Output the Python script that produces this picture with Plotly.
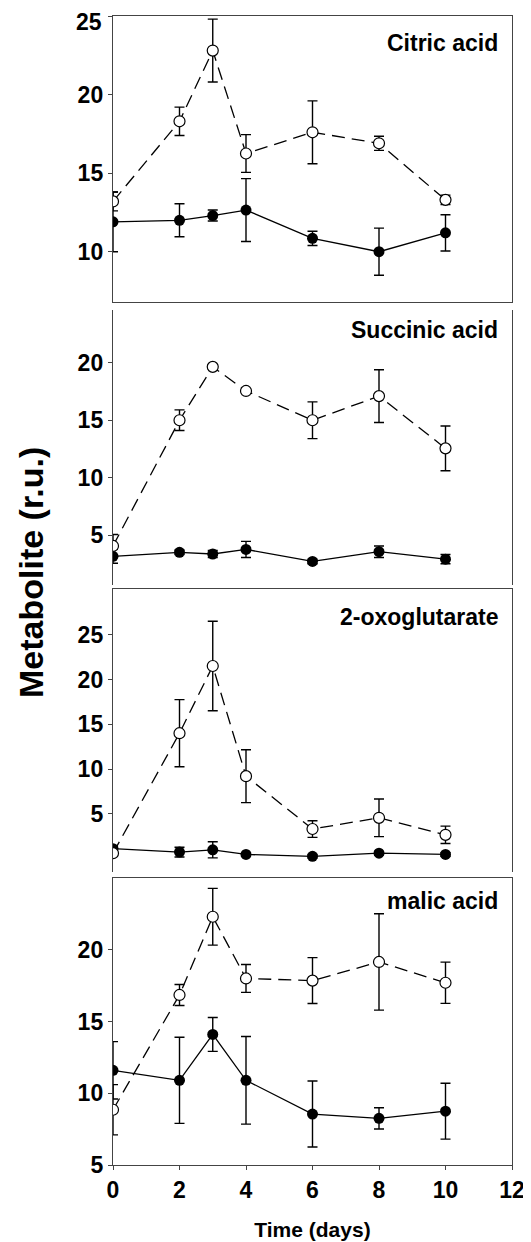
import plotly.graph_objects as go

days = [0, 2, 3, 4, 6, 8, 10]

panel_names = ["Citric acid", "Succinic acid", "2-oxoglutarate", "malic acid"]

citric_open = [13.2, 18.3, 22.8, 16.25, 17.6, 16.9, 13.3]
citric_open_err = [0.6, 0.9, 2.0, 1.2, 2.0, 0.45, 0.3]
citric_filled = [11.9, 12.0, 12.3, 12.65, 10.85, 10.0, 11.2]
citric_filled_err = [1.9, 1.05, 0.35, 2.0, 0.45, 1.5, 1.15]

succinic_open = [4.05, 15.0, 19.65, 17.55, 15.0, 17.1, 12.55]
succinic_open_err = [1.0, 0.9, 0.2, 0.2, 1.6, 2.3, 1.95]
succinic_filled = [3.15, 3.5, 3.35, 3.75, 2.7, 3.55, 2.9]
succinic_filled_err = [0.6, 0.2, 0.3, 0.7, 0.2, 0.5, 0.4]

oxo_open = [0.6, 14.0, 21.5, 9.2, 3.3, 4.55, 2.65]
oxo_open_err = [0.3, 3.75, 5.0, 2.95, 0.93, 2.1, 0.97]
oxo_filled = [1.1, 0.72, 0.98, 0.46, 0.25, 0.6, 0.46]
oxo_filled_err = [0.3, 0.55, 0.9, 0.2, 0.2, 0.2, 0.2]

malic_open = [8.85, 16.85, 22.3, 18.0, 17.85, 19.15, 17.7]
malic_open_err = [1.75, 0.73, 1.98, 0.97, 1.6, 3.36, 1.44]
malic_filled = [11.6, 10.9, 14.1, 10.9, 8.55, 8.25, 8.75]
malic_filled_err = [2.0, 3.0, 1.18, 3.05, 2.3, 0.74, 1.95]

y_ranges = [[6.8, 25], [0.65, 24.6], [-1.5, 30.1], [5, 25]]
y_ticks = [[10, 15, 20, 25], [5, 10, 15, 20], [5, 10, 15, 20, 25], [5, 10, 15, 20]]
x_ticks = [0, 2, 4, 6, 8, 10, 12]

open_series = [(citric_open, citric_open_err), (succinic_open, succinic_open_err),
               (oxo_open, oxo_open_err), (malic_open, malic_open_err)]
filled_series = [(citric_filled, citric_filled_err), (succinic_filled, succinic_filled_err),
                 (oxo_filled, oxo_filled_err), (malic_filled, malic_filled_err)]

# the page body has an 8px margin, so the figure is drawn 8px right/down
OFF = 8
W, H = 531 - OFF, 1242 - OFF
FONT = "Liberation Sans, Arial, sans-serif"
AX = "#444444"

# panel pixel boundaries on screen (top, bottom)
panels_px = [(16, 302), (310, 585), (589, 872), (878, 1165)]
x_px = (113, 512)
label_shift = [-12, -5, -13, -8]

fig = go.Figure()

for i in range(4):
    n = "" if i == 0 else str(i + 1)
    xa, ya = "x" + n, "y" + n
    fv, fe = filled_series[i]
    ov, oe = open_series[i]
    fig.add_trace(go.Scatter(
        x=days, y=fv, xaxis=xa, yaxis=ya, mode="lines+markers",
        line=dict(color="black", width=1.3),
        marker=dict(symbol="circle", size=11, color="black"),
        error_y=dict(type="data", array=fe, visible=True, color="black", thickness=1.4, width=5),
        showlegend=False))
    fig.add_trace(go.Scatter(
        x=days, y=ov, xaxis=xa, yaxis=ya, mode="lines+markers",
        line=dict(color="black", width=1.3, dash="13px,7px"),
        marker=dict(symbol="circle", size=11, color="white", line=dict(color="black", width=1.2)),
        error_y=dict(type="data", array=oe, visible=True, color="black", thickness=1.4, width=5),
        showlegend=False))

    top, bot = panels_px[i]
    dom = [1 - (bot - OFF) / H, 1 - (top - OFF) / H]
    xdom = [(x_px[0] - OFF) / W, (x_px[1] - OFF) / W]

    xaxis = dict(domain=xdom, range=[0, 12], anchor=ya, showgrid=False, zeroline=False,
                 automargin=False, ticklabeloverflow="allow",
                 linecolor=AX, linewidth=1.4, ticks="", showticklabels=False,
                 tickvals=x_ticks)
    if i == 0:
        xaxis.update(showline=True, mirror=True)
    elif i == 1:
        xaxis.update(showline=False)
    elif i == 2:
        xaxis.update(showline=True, side="top")
    else:
        xaxis.update(showline=True, mirror=True, ticks="outside", ticklen=4, tickwidth=1.2,
                     tickcolor=AX, showticklabels=True,
                     tickfont=dict(family=FONT, size=23, color="black", weight="bold"),
                     title=dict(text="Time (days)", standoff=20,
                                font=dict(family=FONT, size=21, color="black", weight="bold")))
    if i > 0:
        xaxis["matches"] = "x"

    ticktext = [str(v) for v in y_ticks[i]]
    if i == 0:
        # the top label "25" sits at the very top edge; it is drawn as an annotation below
        ticktext[-1] = ""
    yaxis = dict(domain=dom, range=y_ranges[i], anchor=xa, showgrid=False, zeroline=False,
                 automargin=False, ticklabeloverflow="allow",
                 showline=True, mirror=True, linecolor=AX, linewidth=1.4,
                 ticks="outside", ticklen=4, tickwidth=1.2, tickcolor=AX,
                 tickvals=y_ticks[i], ticktext=ticktext,
                 tickfont=dict(family=FONT, size=23, color="black", weight="bold"))
    fig.update_layout(**{"xaxis" + n: xaxis, "yaxis" + n: yaxis})

    fig.add_annotation(text=panel_names[i], xref="x" + n + " domain", yref="y" + n + " domain",
                       x=0.97, y=1.0, xanchor="right", yanchor="top", yshift=label_shift[i],
                       showarrow=False,
                       font=dict(family=FONT, size=23, color="black", weight="bold"))

# top tick label of the first panel
fig.add_annotation(text=str(y_ticks[0][-1]), xref="paper", yref="paper",
                   x=(103 - OFF) / W, y=1.0, xanchor="right", yanchor="top",
                   showarrow=False, borderpad=0,
                   font=dict(family=FONT, size=23, color="black", weight="bold"))

fig.add_annotation(text="Metabolite (r.u.)", xref="paper", yref="paper",
                   x=(31 - OFF) / W, y=1 - (573 - OFF) / H, xanchor="center", yanchor="middle",
                   textangle=-90, showarrow=False,
                   font=dict(family=FONT, size=34, color="black", weight="bold"))

fig.update_layout(width=W, height=H, autosize=False,
                  margin=dict(l=0, r=0, t=0, b=0, autoexpand=False),
                  paper_bgcolor="white", plot_bgcolor="white")

fig.write_html("out.html")
